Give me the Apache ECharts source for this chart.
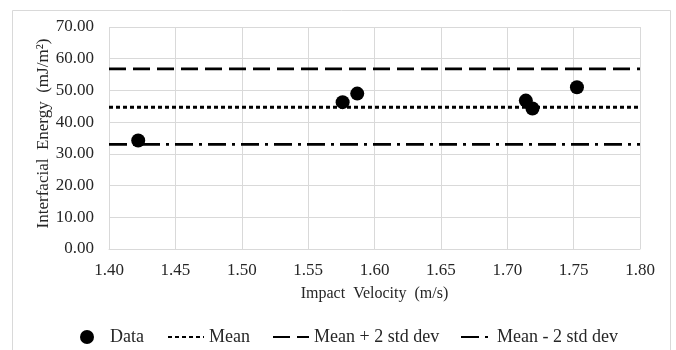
<!DOCTYPE html>
<html>
<head>
<meta charset="utf-8">
<script src="https://cdn.jsdelivr.net/npm/echarts@6/dist/echarts.min.js"></script>
<style>html,body{margin:0;padding:0;background:#fff;}#c{width:676px;height:350px;}</style>
</head>
<body>
<div id="c"></div>
<script>
var velocity = [1.422, 1.576, 1.587, 1.714, 1.719, 1.7525];
var energy = [34.2, 46.3, 49.0, 46.8, 44.3, 51.0];
var lineX = [1.40, 1.80];
var meanValue = 44.7;
var upperValue = 56.8;
var lowerValue = 33.0;
var seriesNames = ['Data', 'Mean', 'Mean + 2 std dev', 'Mean - 2 std dev'];

var font = 'Liberation Serif';
function pairs(xs, ys) { return xs.map(function (x, i) { return [x, ys[i]]; }); }
function flat(v) { return lineX.map(function (x) { return [x, v]; }); }

function legendFor(name, left, w, h, padLeft, extra) {
  var item = { name: name };
  for (var k in extra) item[k] = extra[k];
  return {
    left: left, top: 328, padding: 0, itemWidth: w, itemHeight: h,
    textStyle: { fontFamily: font, fontSize: 18, color: '#262626', padding: [0, 0, 0, padLeft] },
    data: [item], selectedMode: false
  };
}

var chart = echarts.init(document.getElementById('c'));
chart.setOption({
  backgroundColor: '#fff',
  animation: false,
  graphic: [{
    type: 'rect', shape: { x: 12.5, y: 10.5, width: 658, height: 360 },
    style: { fill: 'none', stroke: '#d9d9d9', lineWidth: 1 }, silent: true, z: -1
  }],
  grid: { left: 109, right: 36, top: 27, bottom: 101 },
  xAxis: {
    type: 'value', min: 1.40, max: 1.80, interval: 0.05,
    name: 'Impact  Velocity  (m/s)', nameLocation: 'middle', nameGap: 37, nameMoveOverlap: false,
    nameTextStyle: { fontFamily: font, fontSize: 16, color: '#262626' },
    axisLine: { show: true, lineStyle: { color: '#d9d9d9', width: 1 } },
    axisTick: { show: false },
    splitLine: { show: true, lineStyle: { color: '#d9d9d9', width: 1 } },
    axisLabel: { fontFamily: font, fontSize: 17, color: '#262626', margin: 13,
      formatter: function (v) { return v.toFixed(2); } }
  },
  yAxis: {
    type: 'value', min: 0, max: 70, interval: 10,
    name: 'Interfacial  Energy  (mJ/m²)', nameLocation: 'middle', nameGap: 57, nameMoveOverlap: false,
    nameTextStyle: { fontFamily: font, fontSize: 17, color: '#262626', padding: [0, 0, 0, 9] },
    axisLine: { show: false },
    axisTick: { show: false },
    splitLine: { show: true, lineStyle: { color: '#d9d9d9', width: 1 } },
    axisLabel: { fontFamily: font, fontSize: 17, color: '#262626', margin: 15,
      formatter: function (v) { return v.toFixed(2); } }
  },
  legend: [
    legendFor(seriesNames[0], 80, 14, 14, 11, { icon: 'circle' }),
    legendFor(seriesNames[1], 167, 36, 13, 0, { itemStyle: { opacity: 0 } }),
    legendFor(seriesNames[2], 272, 36, 13, 0, { itemStyle: { opacity: 0 } }),
    legendFor(seriesNames[3], 460, 31, 13, 0, { itemStyle: { opacity: 0 } })
  ],
  series: [
    {
      name: seriesNames[0], type: 'scatter', data: pairs(velocity, energy),
      symbol: 'circle', symbolSize: 14, itemStyle: { color: '#000', opacity: 1 }, z: 5
    },
    {
      name: seriesNames[1], type: 'line', data: flat(meanValue), symbol: 'none',
      lineStyle: { color: '#000', width: 2.8, type: [4, 3] }, itemStyle: { color: '#000' }
    },
    {
      name: seriesNames[2], type: 'line', data: flat(upperValue), symbol: 'none',
      lineStyle: { color: '#000', width: 2.8, type: [17, 7] }, itemStyle: { color: '#000' }
    },
    {
      name: seriesNames[3], type: 'line', data: flat(lowerValue), symbol: 'none',
      lineStyle: { color: '#000', width: 2.8, type: [18, 6, 3, 6] }, itemStyle: { color: '#000' }
    }
  ]
});
</script>
</body>
</html>
